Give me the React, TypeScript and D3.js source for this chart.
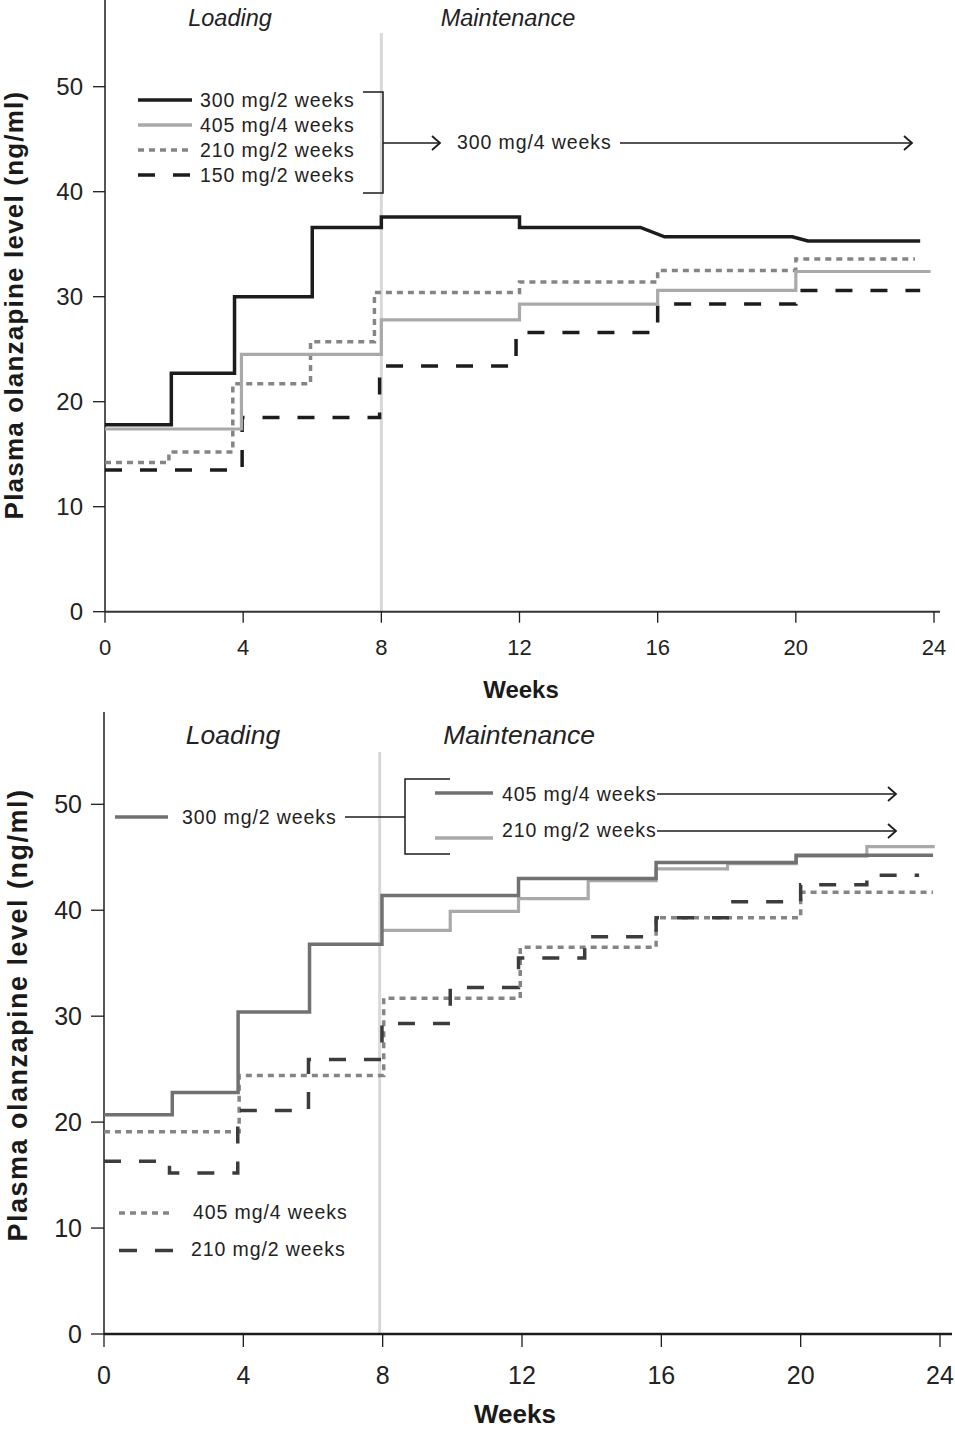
import React from "react";
import * as d3 from "d3";

// ---------- DATA ----------
const weekTicks = [0, 4, 8, 12, 16, 20, 24];
const levelTicks = [0, 10, 20, 30, 40, 50];

// Top panel series (polyline points: week, plasma level)
const top300Weeks = [0, 1.92, 1.92, 3.75, 3.75, 6, 6, 8, 8, 12, 12, 15.5, 16.2, 19.9, 20.35, 23.6];
const top300Vals = [17.8, 17.8, 22.7, 22.7, 30.0, 30.0, 36.6, 36.6, 37.6, 37.6, 36.6, 36.6, 35.7, 35.7, 35.3, 35.3];

const top405Weeks = [0, 3.95, 3.95, 8, 8, 12, 12, 16, 16, 20, 20, 23.9];
const top405Vals = [17.4, 17.4, 24.5, 24.5, 27.8, 27.8, 29.3, 29.3, 30.6, 30.6, 32.4, 32.4];

const top210Weeks = [0, 1.85, 1.85, 3.7, 3.7, 5.95, 5.95, 7.8, 7.8, 12, 12, 16, 16, 20, 20, 23.45];
const top210Vals = [14.2, 14.2, 15.2, 15.2, 21.7, 21.7, 25.7, 25.7, 30.4, 30.4, 31.4, 31.4, 32.5, 32.5, 33.6, 33.6];

const top150Weeks = [0, 3.97, 3.97, 7.95, 7.95, 11.9, 11.9, 16, 16, 20, 20, 23.6];
const top150Vals = [13.5, 13.5, 18.5, 18.5, 23.4, 23.4, 26.6, 26.6, 29.3, 29.3, 30.6, 30.6];

// Bottom panel series
const bot300Weeks = [0, 1.96, 1.96, 3.85, 3.85, 5.9, 5.9, 7.98, 7.98, 11.9, 11.9, 15.85, 15.85, 19.87, 19.87, 23.8];
const bot300Vals = [20.7, 20.7, 22.8, 22.8, 30.4, 30.4, 36.8, 36.8, 41.4, 41.4, 43.0, 43.0, 44.5, 44.5, 45.2, 45.2];

const bot210mWeeks = [7.98, 9.94, 9.94, 11.9, 11.9, 13.9, 13.9, 15.85, 15.85, 17.9, 17.9, 19.87, 19.87, 21.9, 21.9, 23.85];
const bot210mVals = [38.1, 38.1, 39.9, 39.9, 41.1, 41.1, 42.8, 42.8, 43.9, 43.9, 44.4, 44.4, 45.1, 45.1, 46.0, 46.0];

const bot405Weeks = [0, 3.88, 3.88, 8.03, 8.03, 11.95, 11.95, 15.85, 15.85, 20, 20, 23.8];
const bot405Vals = [19.1, 19.1, 24.4, 24.4, 31.7, 31.7, 36.5, 36.5, 39.3, 39.3, 41.7, 41.7];

const bot210Weeks = [0, 1.88, 1.88, 3.84, 3.84, 5.87, 5.87, 7.98, 7.98, 9.94, 9.94, 11.9, 11.9, 13.8, 13.8, 15.85, 15.85, 17.96, 17.96, 20, 20, 21.9, 21.9, 23.4];
const bot210Vals = [16.3, 16.3, 15.2, 15.2, 21.1, 21.1, 25.9, 25.9, 29.3, 29.3, 32.7, 32.7, 35.5, 35.5, 37.5, 37.5, 39.3, 39.3, 40.8, 40.8, 42.4, 42.4, 43.3, 43.3];

const topLegend = ["300 mg/2 weeks", "405 mg/4 weeks", "210 mg/2 weeks", "150 mg/2 weeks"];
const topMaint = "300 mg/4 weeks";
const botLoadLabel = "300 mg/2 weeks";
const botMaintLabels = ["405 mg/4 weeks", "210 mg/2 weeks"];
const botLowerLegend = ["405 mg/4 weeks", "210 mg/2 weeks"];
const yTitle = "Plasma olanzapine level (ng/ml)";
const xTitle = "Weeks";

// ---------- STYLE ----------
const FONT = "'Liberation Sans', Arial, Helvetica, sans-serif";
const C_BLACK = "#1c1c1c";
const C_LIGHT = "#a9a9a9";
const C_DOT = "#858585";
const C_MID = "#717171";
const C_DARKDASH = "#3c3c3c";
const C_PHASE = "#d8d8d8";
const DOT = "6,5";
const DASH = "17,18";
const LEG_FS = 19.5;
const LEG_LS = 0.9;

function pts(ws: number[], vs: number[]): [number, number][] {
  return ws.map((w, i) => [w, vs[i]]);
}

function Chevron({ x, y }: { x: number; y: number }) {
  return <path d={`M${x - 8},${y - 7} L${x},${y} L${x - 8},${y + 7}`} fill="none" stroke={C_BLACK} strokeWidth={1.8} />;
}

function LegText({ x, y, children }: { x: number; y: number; children: React.ReactNode }) {
  return (
    <text x={x} y={y} fontSize={LEG_FS} letterSpacing={LEG_LS} dominantBaseline="central" fill="#222">{children}</text>
  );
}

export default function App() {
  // top panel scales
  const xT = d3.scaleLinear().domain([0, 24]).range([105, 934]);
  const yT = d3.scaleLinear().domain([0, 50]).range([611.7, 86.7]);
  // bottom panel scales
  const xB = d3.scaleLinear().domain([0, 24]).range([104, 940]);
  const yB = d3.scaleLinear().domain([0, 50]).range([1334, 804.3]);

  const lineT = d3.line<[number, number]>().x((d) => xT(d[0])).y((d) => yT(d[1]));
  const lineB = d3.line<[number, number]>().x((d) => xB(d[0])).y((d) => yB(d[1]));

  const topSeries = [
    { d: pts(top150Weeks, top150Vals), color: C_BLACK, dash: DASH, w: 3.5 },
    { d: pts(top210Weeks, top210Vals), color: C_DOT, dash: DOT, w: 3.5 },
    { d: pts(top405Weeks, top405Vals), color: C_LIGHT, dash: null, w: 3.2 },
    { d: pts(top300Weeks, top300Vals), color: C_BLACK, dash: null, w: 3.5 },
  ];
  const botSeries = [
    { d: pts(bot405Weeks, bot405Vals), color: C_DOT, dash: DOT, w: 3.5 },
    { d: pts(bot210Weeks, bot210Vals), color: C_DARKDASH, dash: DASH, w: 3.5 },
    { d: pts(bot210mWeeks, bot210mVals), color: C_LIGHT, dash: null, w: 3.2 },
    { d: pts(bot300Weeks, bot300Vals), color: C_MID, dash: null, w: 3.5 },
  ];

  const topLegendStyles = [
    { color: C_BLACK, dash: null },
    { color: C_LIGHT, dash: null },
    { color: C_DOT, dash: DOT },
    { color: C_BLACK, dash: DASH },
  ];

  return (
    <svg width={955} height={1430} style={{ position: "absolute", left: 0, top: 0, background: "#fff" }} fontFamily={FONT}>
      <rect x={0} y={0} width={955} height={1430} fill="#fff" />

      {/* ================= TOP PANEL ================= */}
      <line x1={xT(8)} x2={xT(8)} y1={33} y2={yT(0)} stroke={C_PHASE} strokeWidth={3} />
      <text x={230} y={18} fontSize={23.5} fontStyle="italic" textAnchor="middle" dominantBaseline="central" fill="#222">Loading</text>
      <text x={508} y={18} fontSize={23.5} fontStyle="italic" textAnchor="middle" dominantBaseline="central" fill="#222">Maintenance</text>

      {/* axes */}
      <line x1={xT(0)} x2={xT(0)} y1={0} y2={yT(0)} stroke={C_BLACK} strokeWidth={1.5} />
      <line x1={xT(0)} x2={940} y1={yT(0)} y2={yT(0)} stroke="#333" strokeWidth={2} />
      {levelTicks.map((t) => (
        <g key={"yt" + t}>
          <line x1={xT(0) - 12} x2={xT(0)} y1={yT(t)} y2={yT(t)} stroke={C_BLACK} strokeWidth={1.3} />
          <text x={83} y={yT(t)} fontSize={24} textAnchor="end" dominantBaseline="central" fill="#222">{t}</text>
        </g>
      ))}
      {weekTicks.map((t) => (
        <g key={"xt" + t}>
          <line x1={xT(t)} x2={xT(t)} y1={yT(0)} y2={yT(0) + 11} stroke={C_BLACK} strokeWidth={1.3} />
          <text x={xT(t)} y={647} fontSize={22} textAnchor="middle" dominantBaseline="central" fill="#222">{t}</text>
        </g>
      ))}
      <text x={521} y={698} fontSize={24} fontWeight="bold" textAnchor="middle" fill="#1a1a1a">{xTitle}</text>
      <text transform="translate(23,305) rotate(-90)" fontSize={26} letterSpacing={1.2} fontWeight="bold" textAnchor="middle" fill="#1a1a1a">{yTitle}</text>

      {/* series */}
      {topSeries.map((s, i) => (
        <path key={"ts" + i} d={lineT(s.d) || ""} fill="none" stroke={s.color} strokeWidth={s.w}
          strokeDasharray={s.dash || undefined} strokeLinejoin="miter" />
      ))}

      {/* legend */}
      {topLegend.map((lab, i) => (
        <g key={"tl" + i}>
          <line x1={138} x2={192} y1={100 + i * 25} y2={100 + i * 25} stroke={topLegendStyles[i].color} strokeWidth={3.5}
            strokeDasharray={topLegendStyles[i].dash || undefined} />
          <LegText x={200} y={100 + i * 25}>{lab}</LegText>
        </g>
      ))}
      <path d="M363,92 H383 V193 H363" fill="none" stroke={C_BLACK} strokeWidth={1.5} />
      <line x1={383} x2={440} y1={143} y2={143} stroke={C_BLACK} strokeWidth={1.5} />
      <Chevron x={440} y={143} />
      <LegText x={457} y={142}>{topMaint}</LegText>
      <line x1={620} x2={912} y1={143} y2={143} stroke={C_BLACK} strokeWidth={1.5} />
      <Chevron x={912} y={143} />

      {/* ================= BOTTOM PANEL ================= */}
      <line x1={xB(8) - 3} x2={xB(8) - 3} y1={752} y2={yB(0)} stroke={C_PHASE} strokeWidth={3} />
      <text x={233} y={735} fontSize={26.5} fontStyle="italic" textAnchor="middle" dominantBaseline="central" fill="#222">Loading</text>
      <text x={519} y={735} fontSize={26.5} fontStyle="italic" textAnchor="middle" dominantBaseline="central" fill="#222">Maintenance</text>

      <line x1={xB(0)} x2={xB(0)} y1={712} y2={yB(0)} stroke={C_BLACK} strokeWidth={1.5} />
      <line x1={xB(0)} x2={952} y1={yB(0)} y2={yB(0)} stroke={C_BLACK} strokeWidth={2.5} />
      {levelTicks.map((t) => (
        <g key={"ybt" + t}>
          <line x1={xB(0) - 13} x2={xB(0)} y1={yB(t)} y2={yB(t)} stroke={C_BLACK} strokeWidth={1.3} />
          <text x={82} y={yB(t)} fontSize={25} textAnchor="end" dominantBaseline="central" fill="#222">{t}</text>
        </g>
      ))}
      {weekTicks.map((t) => (
        <g key={"xbt" + t}>
          <line x1={xB(t)} x2={xB(t)} y1={yB(0)} y2={yB(0) + 13} stroke={C_BLACK} strokeWidth={1.3} />
          <text x={xB(t)} y={1375} fontSize={25} textAnchor="middle" dominantBaseline="central" fill="#222">{t}</text>
        </g>
      ))}
      <text x={515} y={1423} fontSize={26} fontWeight="bold" textAnchor="middle" fill="#1a1a1a">{xTitle}</text>
      <text transform="translate(27,1015) rotate(-90)" fontSize={27} letterSpacing={1.5} fontWeight="bold" textAnchor="middle" fill="#1a1a1a">{yTitle}</text>

      {botSeries.map((s, i) => (
        <path key={"bs" + i} d={lineB(s.d) || ""} fill="none" stroke={s.color} strokeWidth={s.w}
          strokeDasharray={s.dash || undefined} strokeLinejoin="miter" />
      ))}

      {/* bottom legend */}
      <line x1={115} x2={168} y1={817} y2={817} stroke={C_MID} strokeWidth={3.5} />
      <LegText x={182} y={817}>{botLoadLabel}</LegText>
      <line x1={345} x2={405} y1={817} y2={817} stroke={C_BLACK} strokeWidth={1.5} />
      <path d="M450,779 H405 V854 H450" fill="none" stroke={C_BLACK} strokeWidth={1.5} />
      <line x1={435} x2={493} y1={793} y2={793} stroke={C_MID} strokeWidth={3.5} />
      <line x1={435} x2={493} y1={838} y2={838} stroke={C_LIGHT} strokeWidth={3.5} />
      <LegText x={502} y={794}>{botMaintLabels[0]}</LegText>
      <LegText x={502} y={830}>{botMaintLabels[1]}</LegText>
      <line x1={657} x2={896} y1={794} y2={794} stroke={C_BLACK} strokeWidth={1.5} />
      <Chevron x={896} y={794} />
      <line x1={657} x2={896} y1={831} y2={831} stroke={C_BLACK} strokeWidth={1.5} />
      <Chevron x={896} y={831} />

      <line x1={119} x2={173} y1={1213} y2={1213} stroke={C_DOT} strokeWidth={3.5} strokeDasharray={DOT} />
      <LegText x={193} y={1212}>{botLowerLegend[0]}</LegText>
      <line x1={119} x2={173} y1={1250.5} y2={1250.5} stroke={C_DARKDASH} strokeWidth={3.5} strokeDasharray="18,18" />
      <LegText x={191} y={1249}>{botLowerLegend[1]}</LegText>
    </svg>
  );
}
